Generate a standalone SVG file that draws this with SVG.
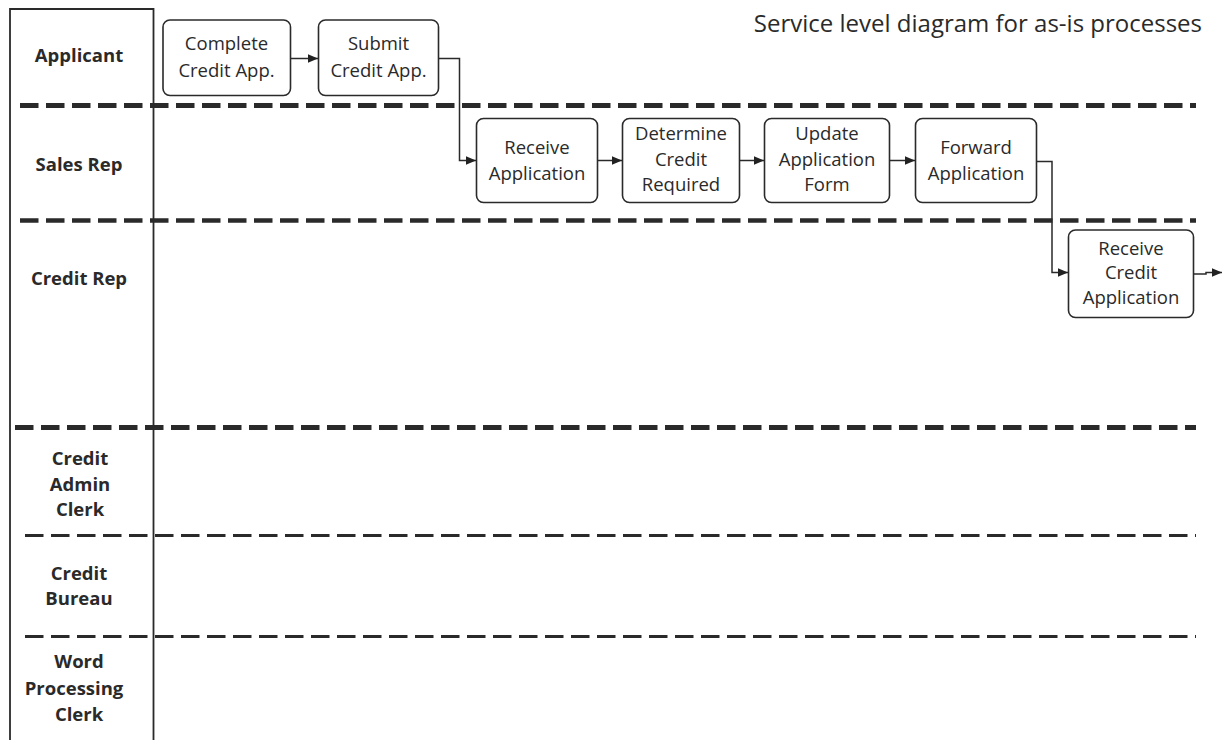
<svg xmlns="http://www.w3.org/2000/svg" width="1226" height="740" viewBox="0 0 1226 740">
<defs>
<marker id="arr" viewBox="0 0 10 10" refX="10" refY="5" markerWidth="10" markerHeight="10" markerUnits="userSpaceOnUse" orient="auto">
<path d="M0,0.8 L10,5 L0,9.2 Z" fill="#222"/>
</marker>
<clipPath id="rcClip"><rect x="1060" y="241" width="140" height="90"/></clipPath>
</defs>
<style>
.bg{fill:#fff}
.frame{stroke:#2a2a2a;stroke-width:1.8;fill:none}
.thick{stroke:#2a2a2a;stroke-width:5;stroke-dasharray:18.5 7.5;fill:none}
.mid{stroke:#2a2a2a;stroke-width:4.5;stroke-dasharray:18.5 7.5;fill:none}
.thin{stroke:#2a2a2a;stroke-width:3;stroke-dasharray:18.5 7.5;fill:none}
.box{fill:#fff;stroke:#2a2a2a;stroke-width:1.6}
.conn{stroke:#2a2a2a;stroke-width:1.5;fill:none}
.lane{font-family:"Open Sans","Liberation Sans",sans-serif;font-weight:bold;font-size:18.5px;fill:#2a2a2a;text-anchor:middle}
.t{font-family:"Open Sans","Liberation Sans",sans-serif;font-size:18.5px;fill:#2a2a2a;text-anchor:middle}
.title{font-family:"Open Sans","Liberation Sans",sans-serif;font-size:24px;fill:#2a2a2a;text-anchor:end}
</style>
<rect class="bg" x="0" y="0" width="1226" height="740"/>
<g id="frame">
<path class="frame" d="M10,740 V9 H153.5 V740"/>
</g>
<g id="lane-separators">
<line class="thick" x1="20" y1="105.5" x2="1196" y2="105.5"/>
<line class="mid" x1="20" y1="220.5" x2="1196" y2="220.5"/>
<line class="thick" x1="15" y1="427.5" x2="1196" y2="427.5"/>
<line class="thin" x1="25" y1="535.5" x2="1196" y2="535.5"/>
<line class="thin" x1="25" y1="636.5" x2="1196" y2="636.5"/>
</g>
<g id="lane-labels">
<text class="lane" x="79" y="62">Applicant</text>
<text class="lane" x="79" y="171">Sales Rep</text>
<text class="lane" x="79" y="285">Credit Rep</text>
<text class="lane" x="80" y="465">Credit</text>
<text class="lane" x="80" y="491">Admin</text>
<text class="lane" x="80" y="516">Clerk</text>
<text class="lane" x="79" y="580">Credit</text>
<text class="lane" x="79" y="605">Bureau</text>
<text class="lane" x="79" y="668">Word</text>
<text class="lane" x="74" y="695">Processing</text>
<text class="lane" x="79" y="721">Clerk</text>
</g>
<text class="title" x="1202" y="32">Service level diagram for as-is processes</text>
<g id="connectors">
<line class="conn" x1="290.5" y1="58.5" x2="318" y2="58.5" marker-end="url(#arr)"/>
<path class="conn" d="M438.5,58.5 H459.5 V160.5 H476" marker-end="url(#arr)"/>
<line class="conn" x1="597.5" y1="160.5" x2="622" y2="160.5" marker-end="url(#arr)"/>
<line class="conn" x1="739.5" y1="160.5" x2="764" y2="160.5" marker-end="url(#arr)"/>
<line class="conn" x1="889.5" y1="160.5" x2="915" y2="160.5" marker-end="url(#arr)"/>
<path class="conn" d="M1036.5,161.5 H1052 V272.5 H1068" marker-end="url(#arr)"/>
<path class="conn" d="M1193.5,274 H1206 V272.5 H1222" marker-end="url(#arr)"/>
</g>
<g id="n-complete">
<rect class="box" x="163" y="20" width="127.5" height="75.5" rx="7"/>
<text class="t" x="226.5" y="50">Complete</text>
<text class="t" x="226.5" y="76.5">Credit App.</text>
</g>
<g id="n-submit">
<rect class="box" x="318.5" y="20" width="120" height="75.5" rx="7"/>
<text class="t" x="378.5" y="50">Submit</text>
<text class="t" x="378.5" y="76.5">Credit App.</text>
</g>
<g id="n-receive">
<rect class="box" x="476.5" y="118.5" width="121" height="84" rx="7"/>
<text class="t" x="537" y="154">Receive</text>
<text class="t" x="537" y="180">Application</text>
</g>
<g id="n-determine">
<rect class="box" x="622.5" y="118.5" width="117" height="84" rx="7"/>
<text class="t" x="681" y="140">Determine</text>
<text class="t" x="681" y="166">Credit</text>
<text class="t" x="681" y="191">Required</text>
</g>
<g id="n-update">
<rect class="box" x="764.5" y="118.5" width="125" height="84" rx="7"/>
<text class="t" x="827" y="140">Update</text>
<text class="t" x="827" y="166">Application</text>
<text class="t" x="827" y="191">Form</text>
</g>
<g id="n-forward">
<rect class="box" x="915.5" y="118.5" width="121" height="84" rx="7"/>
<text class="t" x="976" y="154">Forward</text>
<text class="t" x="976" y="180">Application</text>
</g>
<g id="n-receive-credit">
<rect class="box" x="1068.5" y="230" width="125" height="87.5" rx="7"/>
<text class="t" x="1131" y="255" clip-path="url(#rcClip)">Receive</text>
<text class="t" x="1131" y="279">Credit</text>
<text class="t" x="1131" y="304">Application</text>
</g>
</svg>
